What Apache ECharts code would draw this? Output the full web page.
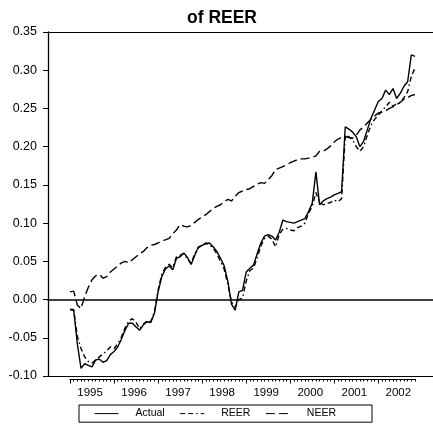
<!DOCTYPE html>
<html>
<head>
<meta charset="utf-8">
<script src="https://cdn.jsdelivr.net/npm/echarts@6/dist/echarts.min.js"></script>
<style>
  html, body { margin: 0; padding: 0; background: #fff; }
  #chart { width: 433px; height: 428px; }
</style>
</head>
<body>
<div id="chart"></div>
<script>
// monthly, 1995M01 .. 2002M11
const years = [1995, 1996, 1997, 1998, 1999, 2000, 2001, 2002];
const yTicks = [-0.10, -0.05, 0.00, 0.05, 0.10, 0.15, 0.20, 0.25, 0.30, 0.35];

const actual = [
  -0.013, -0.013, -0.058, -0.090, -0.084, -0.086, -0.088, -0.079, -0.078, -0.082, -0.080, -0.072,
  -0.068, -0.062, -0.052, -0.040, -0.031, -0.031, -0.036, -0.040, -0.033, -0.029, -0.030, -0.018,
  0.010, 0.030, 0.040, 0.044, 0.039, 0.054, 0.056, 0.061, 0.055, 0.046, 0.058, 0.069,
  0.071, 0.073, 0.074, 0.069, 0.063, 0.054, 0.044, 0.024, -0.006, -0.014, 0.010, 0.012,
  0.036, 0.041, 0.045, 0.060, 0.074, 0.083, 0.085, 0.083, 0.078, 0.088, 0.104, 0.102,
  0.101, 0.100, 0.102, 0.104, 0.106, 0.115, 0.126, 0.167, 0.124, 0.129, 0.132, 0.134,
  0.137, 0.139, 0.141, 0.226, 0.223, 0.219, 0.213, 0.200, 0.207, 0.222, 0.237, 0.248,
  0.259, 0.263, 0.274, 0.268, 0.276, 0.263, 0.270, 0.279, 0.285, 0.320, 0.318
];

const reer = [
  -0.013, -0.014, -0.048, -0.064, -0.075, -0.081, -0.083, -0.079, -0.075, -0.071, -0.067, -0.062,
  -0.064, -0.058, -0.049, -0.037, -0.028, -0.025, -0.030, -0.038, -0.032, -0.028, -0.029, -0.016,
  0.012, 0.033, 0.042, 0.046, 0.042, 0.056, 0.058, 0.060, 0.053, 0.047, 0.060, 0.068,
  0.071, 0.074, 0.072, 0.067, 0.060, 0.050, 0.040, 0.020, -0.003, -0.010, 0.000, 0.002,
  0.024, 0.038, 0.041, 0.055, 0.070, 0.080, 0.083, 0.079, 0.069, 0.085, 0.092, 0.093,
  0.091, 0.090, 0.094, 0.096, 0.100, 0.113, 0.122, 0.140, 0.127, 0.124, 0.126, 0.127,
  0.130, 0.128, 0.132, 0.215, 0.213, 0.209, 0.200, 0.194, 0.200, 0.215, 0.228, 0.236,
  0.241, 0.247, 0.252, 0.258, 0.253, 0.256, 0.258, 0.264, 0.272, 0.292, 0.303
];

const neer = [
  0.010, 0.011, -0.007, -0.012, 0.004, 0.016, 0.026, 0.031, 0.033, 0.028, 0.030, 0.036,
  0.040, 0.044, 0.048, 0.050, 0.048, 0.052, 0.056, 0.060, 0.063, 0.068, 0.071, 0.072,
  0.074, 0.077, 0.078, 0.080, 0.086, 0.091, 0.098, 0.096, 0.095, 0.097, 0.101, 0.105,
  0.108, 0.111, 0.115, 0.119, 0.122, 0.124, 0.128, 0.131, 0.129, 0.135, 0.140, 0.142,
  0.144, 0.145, 0.148, 0.151, 0.153, 0.152, 0.157, 0.162, 0.170, 0.172, 0.174, 0.176,
  0.179, 0.181, 0.183, 0.184, 0.184, 0.185, 0.186, 0.188, 0.194, 0.194, 0.197, 0.201,
  0.206, 0.210, 0.212, 0.213, 0.212, 0.211, 0.215, 0.222, 0.226, 0.231, 0.236, 0.240,
  0.244, 0.245, 0.247, 0.250, 0.252, 0.255, 0.258, 0.262, 0.264, 0.267, 0.268
];

const monthCodes = ['01', '02', '03', '04', '05', '06', '07', '08', '09', '10', '11', '12'];
const months = years.flatMap(y => monthCodes.map(m => y + 'M' + m)).slice(0, actual.length);

const FONT = '"Liberation Sans", Arial, sans-serif';
const black = '#000';

const chart = echarts.init(document.getElementById('chart'), null, { renderer: 'canvas' });

const hidden = { show: false };

chart.setOption({
  animation: false,
  backgroundColor: '#fff',
  textStyle: { fontFamily: FONT, color: black },
  title: {
    text: 'of REER',
    left: 222,
    textAlign: 'center',
    top: 9,
    padding: 0,
    textStyle: { fontFamily: FONT, fontSize: 17.5, fontWeight: 'bold', color: black }
  },
  legend: {
    left: 79,
    top: 405,
    orient: 'horizontal',
    padding: [3, 36, 3, 15],
    itemGap: 15,
    itemWidth: 24,
    itemHeight: 14,
    borderColor: black,
    borderWidth: 1,
    itemStyle: { opacity: 0, borderWidth: 0 },
    lineStyle: { width: 1 },
    textStyle: { fontFamily: FONT, fontSize: 10.5, color: black, padding: [0, 0, 0, 12] },
    data: ['Actual', 'REER', 'NEER']
  },
  grid: [
    // frame: left axis, top and bottom borders, zero line
    { left: 48, right: 0, top: 32, bottom: 52 },
    // data area: first to last month
    { left: 70, right: 18, top: 32, bottom: 52 }
  ],
  xAxis: [
    { gridIndex: 0, type: 'value', min: 0, max: 1, position: 'bottom',
      axisLine: { show: true, onZero: false, lineStyle: { color: black, width: 1 } },
      axisTick: hidden, axisLabel: hidden, splitLine: hidden },
    { gridIndex: 0, type: 'value', min: 0, max: 1, position: 'top',
      axisLine: { show: true, onZero: false, lineStyle: { color: black, width: 1 } },
      axisTick: hidden, axisLabel: hidden, splitLine: hidden },
    { gridIndex: 0, type: 'value', min: 0, max: 1, position: 'bottom',
      axisLine: { show: true, onZero: true, lineStyle: { color: black, width: 1.5 } },
      axisTick: hidden, axisLabel: hidden, splitLine: hidden },
    { gridIndex: 1, type: 'category', data: months, boundaryGap: false, position: 'bottom', offset: 3,
      axisLine: { show: true, onZero: false, lineStyle: { color: black, width: 1 } },
      axisTick: { show: true, interval: 0, length: 2.5, lineStyle: { color: black, width: 1 } },
      axisLabel: {
        show: true,
        interval: (idx) => idx % 12 === 6,
        formatter: (v) => v.slice(0, 4),
        margin: 8,
        padding: [0, 4, 0, 0],
        fontFamily: FONT, fontSize: 11.5, color: black
      },
      splitLine: hidden },
    { gridIndex: 1, type: 'category', data: months, boundaryGap: false, position: 'bottom', offset: 3,
      axisLine: { show: false, onZero: false },
      axisTick: { show: true, interval: (idx) => idx % 12 === 0, length: 4.5, lineStyle: { color: black, width: 1 } },
      axisLabel: hidden, splitLine: hidden }
  ],
  yAxis: [
    { gridIndex: 0, type: 'value', min: yTicks[0], max: yTicks[yTicks.length - 1], interval: 0.05,
      axisLine: { show: true, lineStyle: { color: black, width: 1.3 } },
      axisTick: { show: true, length: 5, lineStyle: { color: black, width: 1 } },
      axisLabel: { margin: 11, fontFamily: FONT, fontSize: 12.5, color: black, formatter: (v) => v.toFixed(2) },
      splitLine: hidden },
    { gridIndex: 1, type: 'value', min: yTicks[0], max: yTicks[yTicks.length - 1], interval: 0.05,
      axisLine: hidden, axisTick: hidden, axisLabel: hidden, splitLine: hidden }
  ],
  series: [
    { name: 'Actual', type: 'line', xAxisIndex: 3, yAxisIndex: 1, data: actual,
      showSymbol: false, symbol: 'none',
      lineStyle: { color: black, width: 1.4, type: 'solid' }, itemStyle: { color: black } },
    { name: 'REER', type: 'line', xAxisIndex: 3, yAxisIndex: 1, data: reer,
      showSymbol: false, symbol: 'none',
      lineStyle: { color: black, width: 1.4, type: [5, 3, 5, 3, 1.5, 3] }, itemStyle: { color: black } },
    { name: 'NEER', type: 'line', xAxisIndex: 3, yAxisIndex: 1, data: neer,
      showSymbol: false, symbol: 'none',
      lineStyle: { color: black, width: 1.4, type: [9, 4] }, itemStyle: { color: black } }
  ]
});
</script>
</body>
</html>
